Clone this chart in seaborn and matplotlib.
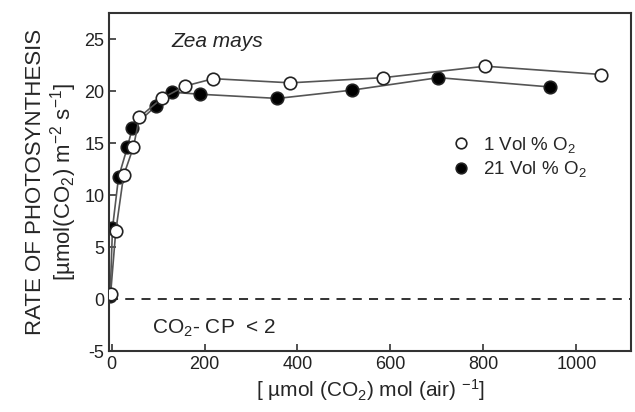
import matplotlib
matplotlib.use("Agg")
import matplotlib.pyplot as plt
import seaborn as sns
import pandas as pd

# 1 Vol % O2 (open circles)
co2_low_o2 = [-2, 9, 26, 47, 60, 108, 159, 219, 385, 585, 804, 1054]
rate_low_o2 = [0.5, 6.5, 11.9, 14.6, 17.5, 19.3, 20.5, 21.2, 20.8, 21.3, 22.4, 21.6]

# 21 Vol % O2 (filled circles)
co2_high_o2 = [-3, 2, 15, 34, 45, 96, 129, 191, 357, 518, 703, 944]
rate_high_o2 = [0.3, 6.8, 11.7, 14.6, 16.5, 18.6, 19.9, 19.7, 19.3, 20.1, 21.3, 20.4]

x_ticks = [0, 200, 400, 600, 800, 1000]
y_ticks = [-5, 0, 5, 10, 15, 20, 25]

df = pd.concat([
    pd.DataFrame({"co2": co2_low_o2, "rate": rate_low_o2, "series": "1 Vol % O$_2$"}),
    pd.DataFrame({"co2": co2_high_o2, "rate": rate_high_o2, "series": "21 Vol % O$_2$"}),
])

sns.set_style("ticks")
plt.rcParams["font.family"] = ["Liberation Sans", "DejaVu Sans"]
plt.rcParams["mathtext.fontset"] = "custom"
plt.rcParams["mathtext.rm"] = "Liberation Sans"
plt.rcParams["mathtext.it"] = "Liberation Sans:italic"
plt.rcParams["axes.unicode_minus"] = False

fig = plt.figure(figsize=(6.35, 4.12), dpi=100)
ax = fig.add_axes([0.172, 0.148, 0.822, 0.82])

ax.axhline(0, color="#222222", lw=1.3, ls=(0, (5, 4)), zorder=1)

styles = {"1 Vol % O$_2$": "white", "21 Vol % O$_2$": "black"}
for name, face in styles.items():
    sub = df[df["series"] == name]
    sns.lineplot(data=sub, x="co2", y="rate", sort=True, ax=ax, color="#555555",
                 lw=1.2, marker="o", markersize=9, markerfacecolor=face,
                 markeredgecolor="#222222", markeredgewidth=1.2, label=name,
                 zorder=3 if face == "white" else 2)

ax.set_xlim(-5, 1118)
ax.set_ylim(-5, 27.5)
ax.set_xticks(x_ticks)
ax.set_yticks(y_ticks)
ax.tick_params(direction="in", length=5, width=1.2, labelsize=13, color="#333333",
               labelcolor="#222222")
for sp in ax.spines.values():
    sp.set_color("#333333")
    sp.set_linewidth(1.5)

ax.set_xlabel("[ µmol (CO$_2$) mol (air) $^{-1}$]", fontsize=15, labelpad=3)
ax.set_ylabel("RATE OF PHOTOSYNTHESIS\n[µmol(CO$_2$) m$^{-2}$ s$^{-1}$]",
              fontsize=16, labelpad=4, linespacing=1.1)

ax.text(0.12, 0.9, "Zea mays", transform=ax.transAxes, fontsize=15, style="italic")
ax.text(0.082, 0.05, "CO$_2$- CP  < 2", transform=ax.transAxes, fontsize=15)

handles, labels = ax.get_legend_handles_labels()
leg = ax.legend(handles, labels, loc="upper left", bbox_to_anchor=(0.63, 0.69),
                frameon=False, fontsize=13.5, handlelength=0.6, handletextpad=0.9,
                labelspacing=0.25, markerscale=0.85)
for h in leg.get_lines():
    h.set_linestyle("none")

fig.savefig("out.png", dpi=100)
